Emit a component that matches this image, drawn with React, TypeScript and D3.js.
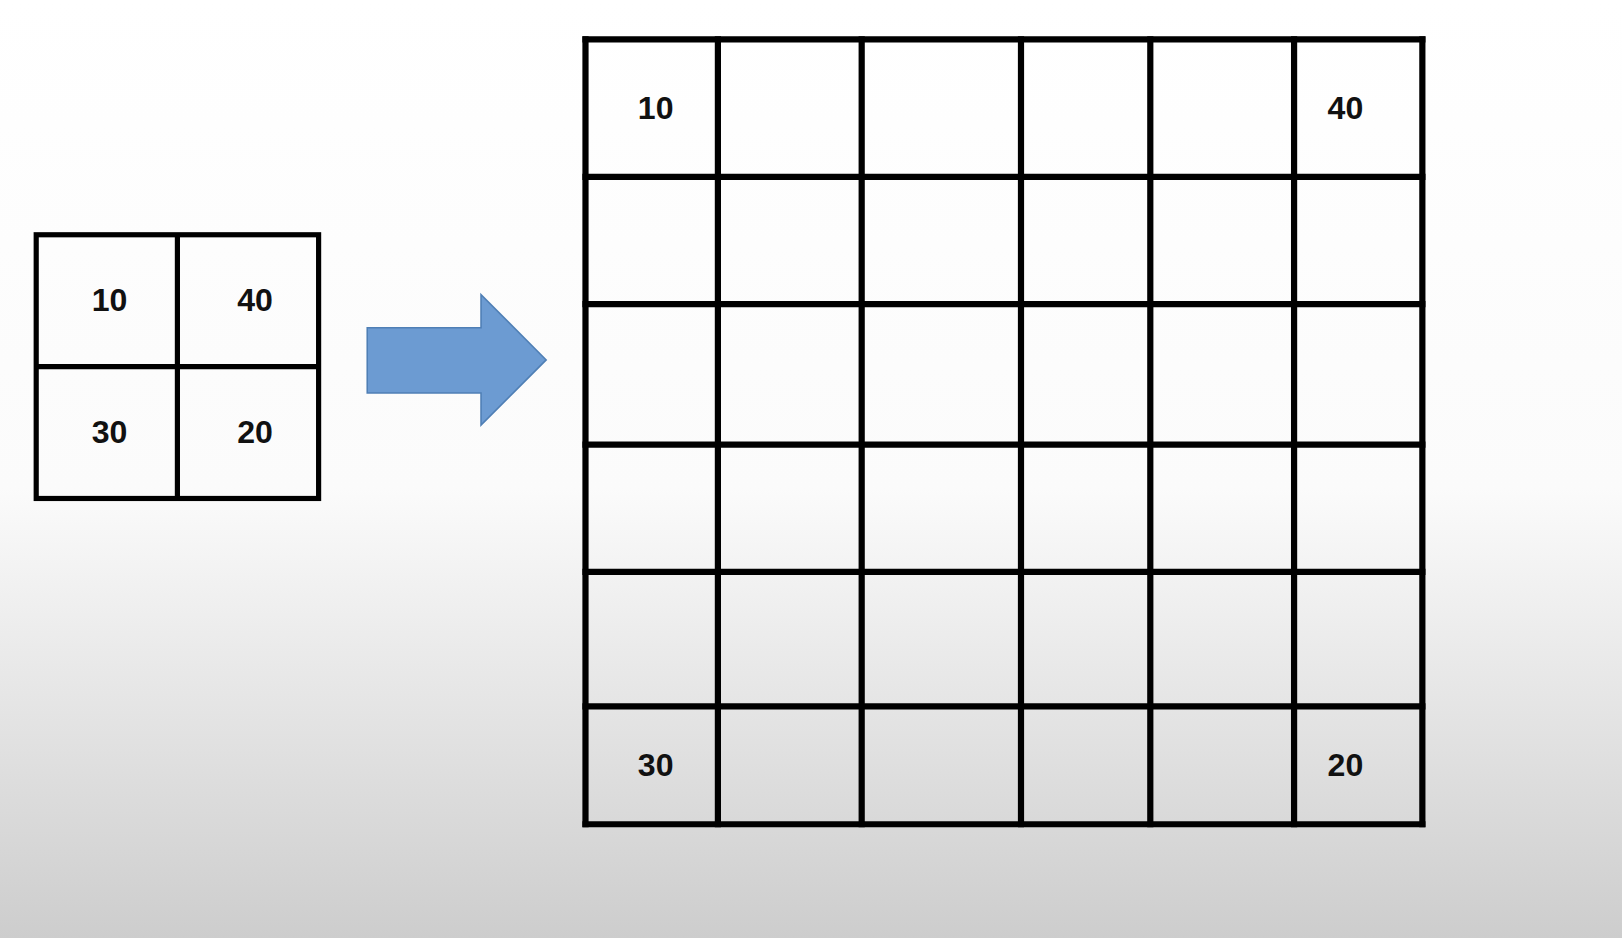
import * as d3 from 'd3';

// input 2x2 values
const smallValues = [
  [10, 40],
  [30, 20],
];
// output 6x6 corners filled from input
const bigCorners = [
  { row: 0, col: 0, value: 10 },
  { row: 0, col: 5, value: 40 },
  { row: 5, col: 0, value: 30 },
  { row: 5, col: 5, value: 20 },
];
const bigColEdges = [566, 694, 833, 987, 1112, 1251, 1375];
const bigRowEdges = [38, 171, 294, 430, 553, 683, 797];

const W = 1568;
const H = 907;

export default function App() {
  const sx = d3.scaleLinear().domain([0, 2]).range([35, 308]);
  const sy = d3.scaleLinear().domain([0, 2]).range([227, 482]);
  const bx = d3.scaleLinear().domain(d3.range(7)).range(bigColEdges);
  const by = d3.scaleLinear().domain(d3.range(7)).range(bigRowEdges);
  const arrow = d3.line()([
    [355, 317], [465, 317], [465, 285], [528, 348], [465, 411], [465, 380], [355, 380],
  ]) + 'Z';
  const font = { fontFamily: '"Liberation Sans", Arial, sans-serif', fontWeight: 700, fontSize: 31, fill: '#111' };

  return (
    <svg width={1622} height={938} viewBox={`0 0 ${W} ${H}`} preserveAspectRatio="none"
      style={{ position: 'fixed', left: 0, top: 0 }}>
      <defs>
        <linearGradient id="bg" x1="0" y1="0" x2="0" y2="1">
          <stop offset="0" stopColor="#ffffff" />
          <stop offset="0.52" stopColor="#fbfbfb" />
          <stop offset="1" stopColor="#cdcdcd" />
        </linearGradient>
      </defs>
      <rect width={W} height={H} fill="url(#bg)" />

      {/* small grid */}
      <g stroke="#000" strokeWidth={5} fill="none">
        <rect x={sx(0)} y={sy(0)} width={sx(2) - sx(0)} height={sy(2) - sy(0)} />
        <line x1={sx(1)} x2={sx(1)} y1={sy(0)} y2={sy(2)} />
        <line x1={sx(0)} x2={sx(2)} y1={sy(1)} y2={sy(1)} />
      </g>
      {smallValues.map((r, i) => r.map((v, j) => (
        <text key={`s${i}${j}`} x={sx(j) + (sx(j + 1) - sx(j)) * (j === 0 ? 0.52 : 0.55)} y={(sy(i) + sy(i + 1)) / 2 + 2}
          textAnchor="middle" dominantBaseline="middle" {...font}>{v}</text>
      )))}

      <path d={arrow} fill="#6c9bd2" stroke="#4f7fb5" strokeWidth={1.5} />

      {/* big grid */}
      <g stroke="#000" strokeWidth={6} strokeLinecap="square">
        {bigColEdges.map((x, i) => (
          <line key={`c${i}`} x1={x} x2={x} y1={by(0)} y2={by(6)} />
        ))}
        {bigRowEdges.map((y, i) => (
          <line key={`r${i}`} x1={bx(0)} x2={bx(6)} y1={y} y2={y} />
        ))}
      </g>
      {bigCorners.map((d, i) => (
        <text key={`b${i}`} x={bx(d.col) + (bx(d.col + 1) - bx(d.col)) * (d.col === 0 ? 0.53 : 0.4)}
          y={(by(d.row) + by(d.row + 1)) / 2 + 2}
          textAnchor="middle" dominantBaseline="middle" {...font}>{d.value}</text>
      ))}
    </svg>
  );
}
